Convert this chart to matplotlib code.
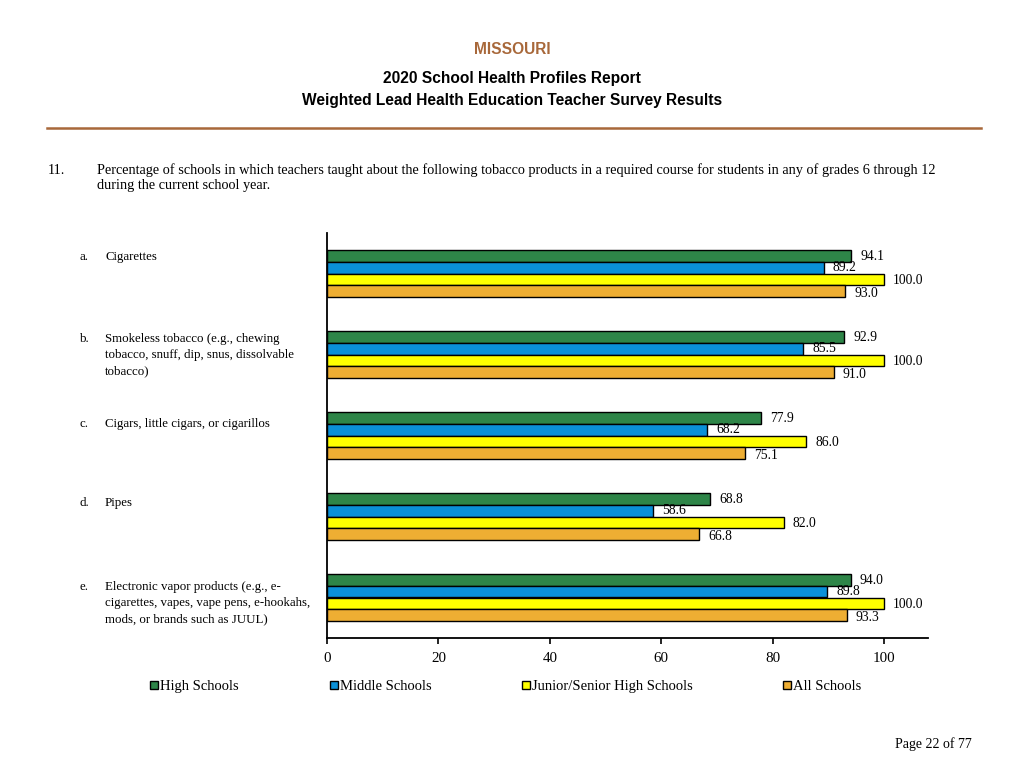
import matplotlib
matplotlib.use("Agg")
import matplotlib.pyplot as plt
from matplotlib.patches import Rectangle
from matplotlib.lines import Line2D

# data
letters = ["a.", "b.", "c.", "d.", "e."]
categories = [
    "Cigarettes",
    "Smokeless tobacco (e.g., chewing\ntobacco, snuff, dip, snus, dissolvable\ntobacco)",
    "Cigars, little cigars, or cigarillos",
    "Pipes",
    "Electronic vapor products (e.g., e-\ncigarettes, vapes, vape pens, e-hookahs,\nmods, or brands such as JUUL)",
]
series_names = ["High Schools", "Middle Schools", "Junior/Senior High Schools", "All Schools"]
high_schools = [94.1, 92.9, 77.9, 68.8, 94.0]
middle_schools = [89.2, 85.5, 68.2, 58.6, 89.8]
junior_senior = [100.0, 100.0, 86.0, 82.0, 100.0]
all_schools = [93.0, 91.0, 75.1, 66.8, 93.3]
xticks = [0, 20, 40, 60, 80, 100]

colors = ["#2e8548", "#0a90d8", "#ffff00", "#eeae33"]
serif = ["Liberation Serif", "DejaVu Serif"]
sans = ["Liberation Sans", "DejaVu Sans"]

fig = plt.figure(figsize=(10.24, 7.68), dpi=100)

# header
fig.text(0.5, 1 - 50 / 768, "MISSOURI", ha="center", va="center",
         family=sans, weight="bold", fontsize=11.2, color="#a8683a")
fig.text(0.5, 1 - 78 / 768, "2020 School Health Profiles Report", ha="center", va="center",
         family=sans, weight="bold", fontsize=11.2)
fig.text(0.5, 1 - 100 / 768, "Weighted Lead Health Education Teacher Survey Results",
         ha="center", va="center", family=sans, weight="bold", fontsize=11.2)
fig.add_artist(Line2D([47 / 1024, 981 / 1024], [1 - 128 / 768] * 2,
                      color="#a8683a", lw=1.8))

# question
fig.text(48 / 1024, 1 - 170 / 768, "11.", ha="left", va="center", family=serif, fontsize=10.3)
fig.text(97 / 1024, 1 - 170 / 768,
         "Percentage of schools in which teachers taught about the following tobacco products "
         "in a required course for students in any of grades 6 through 12",
         ha="left", va="center", family=serif, fontsize=10.3)
fig.text(97 / 1024, 1 - 186 / 768, "during the current school year.",
         ha="left", va="center", family=serif, fontsize=10.3)

ax = fig.add_axes([327 / 1024, 1 - 638 / 768, (928 - 327) / 1024, (638 - 233) / 768])

all_series = [high_schools, middle_schools, junior_senior, all_schools]
label_dy = [-1.0, -0.2, -1.0, -1.5]
bar_h = 0.148
for j, (vals, col) in enumerate(zip(all_series, colors)):
    ys = [i + (j - 1.5) * bar_h for i in range(len(vals))]
    ax.barh(ys, vals, height=bar_h, color=col, edgecolor="black", linewidth=1.0)
    for y, v in zip(ys, vals):
        ax.annotate(f"{v:.1f}", (v, y), xytext=(6.5, label_dy[j]),
                    textcoords="offset points", ha="left", va="center",
                    family=serif, fontsize=9.8)

ax.set_xlim(0, 107.9)
ax.set_ylim(4.5, -0.5)
ax.set_xticks(xticks)
ax.set_xticklabels([str(t) for t in xticks], family=serif, fontsize=10.8)
ax.set_yticks([])
ax.tick_params(axis="x", length=4, width=1.2, pad=6)
for s in ["top", "right"]:
    ax.spines[s].set_visible(False)
ax.spines["left"].set_linewidth(1.3)
ax.spines["bottom"].set_linewidth(1.3)

# category labels (first-line centres in pixels)
label_y = [257, 339, 424, 503, 587]
for let, cat, py in zip(letters, categories, label_y):
    fig.text(80 / 1024, 1 - py / 768, let, ha="left", va="center", family=serif, fontsize=9.3)
    lines = cat.split("\n")
    for k, line in enumerate(lines):
        fig.text(105 / 1024, 1 - (py + 16 * k) / 768, line, ha="left", va="center",
                 family=serif, fontsize=9.3)

# legend
legend_x = [150, 330, 522, 783]
for name, col, lx in zip(series_names, colors, legend_x):
    fig.add_artist(Rectangle((lx / 1024, 1 - 689 / 768), 8 / 1024, 8 / 768,
                             facecolor=col, edgecolor="black", lw=1.0))
    fig.text((lx + 10) / 1024, 1 - 690 / 768, name, ha="left", va="baseline",
             family=serif, fontsize=10.5)

fig.text(972 / 1024, 1 - 744 / 768, "Page 22 of 77", ha="right", va="center",
         family=serif, fontsize=10)

fig.savefig("out.png", dpi=100)
